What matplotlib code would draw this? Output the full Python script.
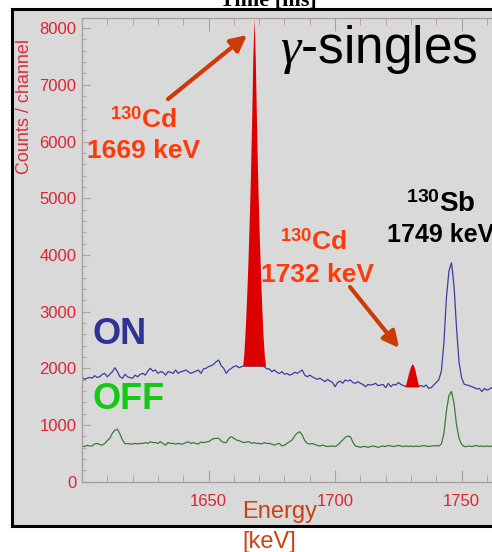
import numpy as np
import matplotlib
matplotlib.use("Agg")
import matplotlib.pyplot as plt
from matplotlib.patches import Rectangle
from matplotlib.ticker import MultipleLocator, FixedLocator

plt.rcParams['font.family'] = ['Liberation Sans', 'DejaVu Sans']
plt.rcParams['mathtext.fontset'] = 'custom'
plt.rcParams['mathtext.rm'] = 'Liberation Sans'
plt.rcParams['mathtext.it'] = 'Liberation Serif:italic'
plt.rcParams['mathtext.bf'] = 'Liberation Sans:bold'

# gamma energy axis, 1 keV per channel
energy = np.arange(1600, 1763)
energy_ticks = [1650, 1700, 1750]

# beam ON spectrum (counts / channel)
on_counts = [
    1850, 1805, 1825, 1840, 1825, 1870, 1840, 1850, 1895, 1910,
    1850, 1895, 1940, 2010, 1940, 1850, 1825, 1895, 1850, 1835,
    1825, 1880, 1850, 1895, 1910, 1880, 1950, 2000, 1950, 1970,
    1910, 1940, 1930, 1880, 1940, 1930, 1910, 1970, 1910, 1940,
    1950, 1970, 1940, 1910, 1930, 1950, 1970, 1910, 1990, 2000,
    2030, 2045, 2070, 2115, 2145, 2045, 2000, 1910, 1970, 2000,
    2030, 2045, 2010, 2030, 2040, 2040, 2040, 2040, 2040, 2040,
    2040, 2040, 2030, 1990, 1990, 1940, 1970, 1930, 1910, 1940,
    1895, 1910, 1880, 1895, 1930, 1910, 1940, 1970, 1880, 1850,
    1880, 1850, 1825, 1805, 1825, 1795, 1765, 1805, 1775, 1750,
    1675, 1750, 1775, 1735, 1795, 1775, 1795, 1750, 1735, 1765,
    1735, 1715, 1675, 1715, 1705, 1715, 1735, 1695, 1705, 1715,
    1660, 1735, 1675, 1715, 1705, 1750, 1715, 1695, 1680, 1675,
    1675, 1675, 1675, 1680, 1695, 1675, 1705, 1645, 1660, 1705,
    1750, 1800, 1950, 2450, 3250, 3720, 3860, 3450, 2700, 2100,
    1830, 1720, 1705, 1695, 1675, 1660, 1635, 1645, 1590, 1645,
    1615, 1635, 1660,
]

# beam OFF spectrum
off_counts = [
    630, 620, 640, 630, 630, 665, 675, 655, 645, 675,
    725, 765, 855, 910, 925, 840, 735, 665, 675, 665,
    665, 675, 665, 675, 675, 690, 675, 705, 690, 690,
    675, 705, 675, 645, 690, 675, 675, 665, 675, 665,
    665, 690, 705, 675, 690, 675, 665, 700, 690, 700,
    705, 735, 760, 765, 765, 720, 690, 690, 765, 795,
    765, 735, 725, 705, 690, 700, 705, 675, 690, 675,
    675, 665, 690, 675, 675, 665, 645, 665, 675, 630,
    645, 675, 705, 735, 805, 855, 880, 825, 725, 675,
    665, 675, 655, 640, 630, 645, 630, 620, 625, 630,
    620, 645, 690, 735, 780, 805, 795, 700, 630, 620,
    605, 620, 620, 605, 620, 630, 620, 605, 620, 630,
    620, 640, 630, 620, 630, 640, 630, 620, 630, 620,
    630, 620, 630, 620, 630, 635, 630, 620, 630, 635,
    635, 630, 665, 850, 1250, 1520, 1590, 1380, 1000, 760,
    660, 620, 620, 630, 620, 630, 640, 620, 630, 620,
    630, 620, 630,
]

# 130Cd lines, finer sampling (0.5 keV)
cd1669_e = [1663.5, 1664, 1664.5, 1665, 1665.5, 1666, 1666.5, 1667, 1667.5,
            1668, 1668.5, 1669, 1669.5, 1670, 1670.5, 1671, 1671.5, 1672, 1672.5]
cd1669_counts = [2040, 2300, 2700, 3200, 3800, 4500, 5300, 6300, 7500,
                 8170, 7400, 6200, 5200, 4400, 3700, 3100, 2600, 2250, 2040]
cd1669_base = 2040

cd1732_e = [1727.5, 1728, 1728.5, 1729, 1729.5, 1730, 1730.5, 1731, 1731.5,
            1732, 1732.5, 1733]
cd1732_counts = [1675, 1730, 1820, 1910, 1990, 2050, 2080, 2050, 1980,
                 1880, 1780, 1690]
cd1732_base = 1675

W, H = 492, 552
fig = plt.figure(figsize=(W / 100, H / 100), dpi=100)
fig.patch.set_facecolor('white')

gray = '#d9d9d9'
panel = Rectangle((12 / W, 1 - 526 / H), 1.2, (526 - 9) / H,
                  transform=fig.transFigure, facecolor=gray,
                  edgecolor='black', lw=2.2, zorder=-10)
fig.patches.append(panel)

fig.text(268 / W, 1 - 6 / H, 'Time [ms]', ha='center', va='baseline',
         family='Liberation Serif', weight='bold', fontsize=16, color='black')

ax = fig.add_axes([82 / W, 1 - 481.7 / H, 1 - 82 / W, (481.7 - 18.3) / H])
ax.set_facecolor(gray)
ax.set_xlim(1600, 1762)
ax.set_ylim(0, 8173)

ax.plot(energy, on_counts, color='#3a3f9c', lw=0.9, zorder=2)
ax.plot(energy, off_counts, color='#3c7a3c', lw=0.9, zorder=2)
ax.fill_between(cd1669_e, cd1669_base, cd1669_counts, color='#dd0000',
                lw=0, zorder=3)
ax.fill_between(cd1732_e, cd1732_base, cd1732_counts, color='#dd0000',
                lw=0, zorder=3)

# axes styling
spine_col = '#ab9f9f'
for side in ['left', 'bottom', 'top']:
    ax.spines[side].set_color(spine_col)
    ax.spines[side].set_linewidth(1.0)
ax.spines['right'].set_visible(False)
ax.xaxis.set_major_locator(FixedLocator(energy_ticks))
ax.xaxis.set_minor_locator(MultipleLocator(10))
ax.yaxis.set_major_locator(MultipleLocator(1000))
ax.yaxis.set_minor_locator(MultipleLocator(200))
tick_red = '#dc2433'
ax.tick_params(which='both', direction='in', top=True, right=False,
               color=spine_col, labelcolor=tick_red, labelsize=12)
ax.tick_params(axis='x', which='major', length=9, pad=9)
ax.tick_params(axis='x', which='minor', length=5)
ax.tick_params(axis='y', which='major', length=6, pad=4)
ax.tick_params(axis='y', which='minor', length=3)

ax.set_ylabel('Counts / channel', color='#d8303c', fontsize=13)
ax.yaxis.set_label_coords((33 - 82) / 410, (481.7 - 107) / 463.4)

fig.text(280 / W, 1 - 518 / H, 'Energy', ha='center', va='baseline',
         fontsize=17, color='#cc4012')
fig.text(269 / W, 1 - 548 / H, '[keV]', ha='center', va='baseline',
         fontsize=17, color='#cc4012')

# labels and arrows
cd_col = '#ff3a0a'
arrow_col = '#cc3a06'
ax.text(1678.3, 7384, r'$\gamma$-singles', ha='left', va='baseline',
        fontsize=37, color='black')

ax.text(1624.5, 6252, r'$^{\mathbf{130}}$Cd', ha='center', va='baseline',
        fontsize=19, weight='bold', color=cd_col)
ax.text(1624.5, 5705, '1669 keV', ha='center', va='baseline',
        fontsize=19, weight='bold', color=cd_col)
ax.annotate('', xy=(1665.2, 7878), xytext=(1634, 6748),
            arrowprops=dict(arrowstyle='-|>', color=arrow_col, lw=3,
                            mutation_scale=24, shrinkA=0, shrinkB=0))

ax.text(1691.3, 4086, r'$^{\mathbf{130}}$Cd', ha='center', va='baseline',
        fontsize=19, weight='bold', color=cd_col)
ax.text(1693.1, 3522, '1732 keV', ha='center', va='baseline',
        fontsize=19, weight='bold', color=cd_col)
ax.annotate('', xy=(1725.3, 2358), xytext=(1705.9, 3434),
            arrowprops=dict(arrowstyle='-|>', color=arrow_col, lw=3,
                            mutation_scale=24, shrinkA=0, shrinkB=0))

ax.text(1741.9, 4753, r'$^{\mathbf{130}}$Sb', ha='center', va='baseline',
        fontsize=20, weight='bold', color='black')
ax.text(1741.7, 4227, '1749 keV', ha='center', va='baseline',
        fontsize=18, weight='bold', color='black')

ax.text(1604.3, 2428, 'ON', ha='left', va='baseline', fontsize=26,
        weight='bold', color='#2f3393')
ax.text(1604.3, 1282, 'OFF', ha='left', va='baseline', fontsize=26,
        weight='bold', color='#14c814')

fig.savefig('out.png', dpi=100)
